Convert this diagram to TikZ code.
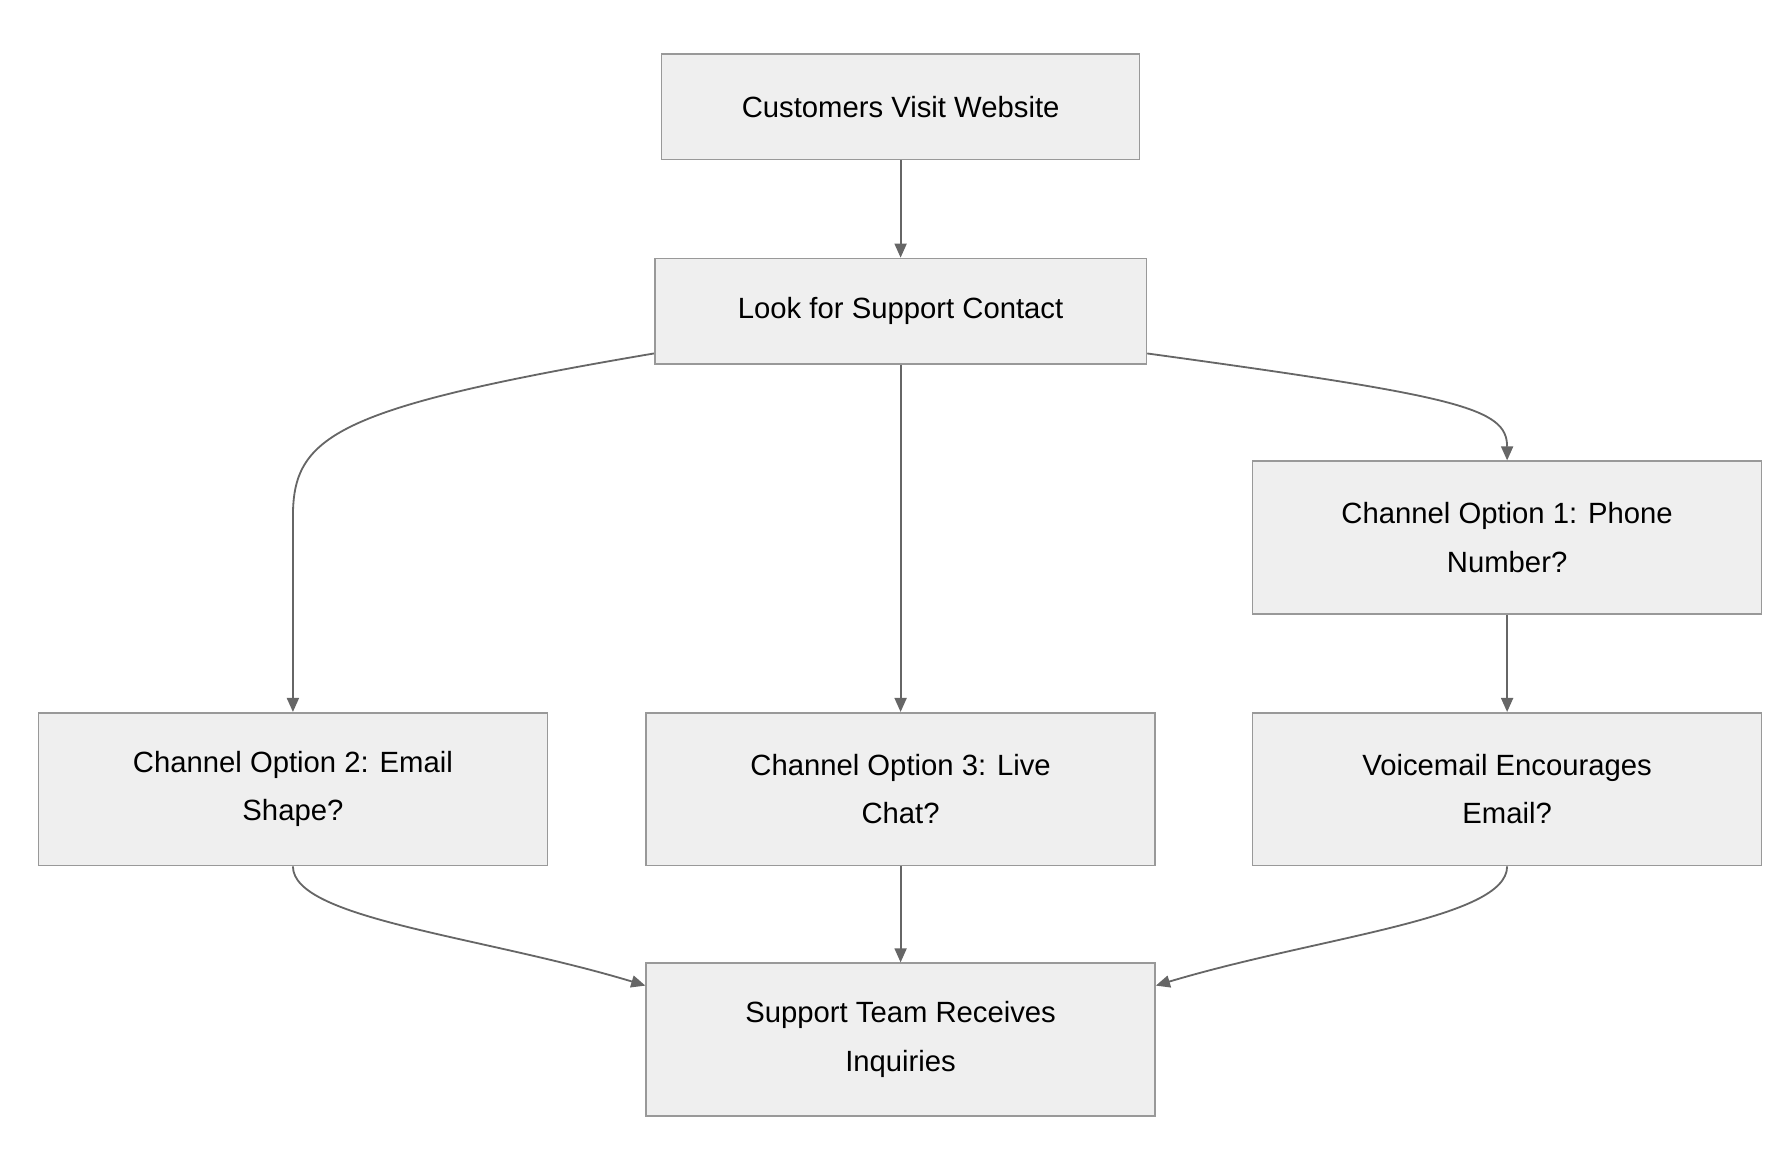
\documentclass[tikz,border=0pt]{standalone}
\usepackage{fontspec}
\setmainfont{Liberation Sans}
\usetikzlibrary{arrows.meta}
\definecolor{bx}{HTML}{EFEFEF}
\definecolor{bd}{HTML}{999999}
\definecolor{ln}{HTML}{666666}
\begin{document}
\begin{tikzpicture}[x=0.02cm,y=-0.02cm,
 box/.style={draw=bd,fill=bx,line width=0.8pt,inner sep=0pt,align=center,font=\fontsize{14.5}{24}\selectfont},
 ar/.style={draw=ln,line width=0.9pt,-{Triangle[length=7pt,width=6pt]}}]
\useasboundingbox (0,0) rectangle (1560,1013);
\node[box,minimum width=416*0.02cm,minimum height=92*0.02cm] (a) at (784,93) {Customers Visit Website};
\node[box,minimum width=428*0.02cm,minimum height=92*0.02cm] (b) at (784,271) {Look for Support Contact};
\node[box,minimum width=443*0.02cm,minimum height=133*0.02cm] (p) at (1312,468) {Channel Option 1: Phone\\Number?};
\node[box,minimum width=443*0.02cm,minimum height=133*0.02cm] (e) at (255,687) {Channel Option 2: Email\\Shape?};
\node[box,minimum width=443*0.02cm,minimum height=133*0.02cm] (l) at (784,687) {Channel Option 3: Live\\Chat?};
\node[box,minimum width=443*0.02cm,minimum height=133*0.02cm] (v) at (1312,687) {Voicemail Encourages\\Email?};
\node[box,minimum width=443*0.02cm,minimum height=133*0.02cm] (s) at (784,905) {Support Team Receives\\Inquiries};
\draw[ar] (a) -- (b);
\draw[ar] (b) -- (l);
\draw[ar] (p) -- (v);
\draw[ar] (l) -- (s);
\draw[ar] (b.south west) ++(0,-10) .. controls (290,355) and (255,380) .. (255,450) -- (e.north);
\draw[ar] (b.south east) ++(0,-10) .. controls (1270,345) and (1312,355) .. (p.north);
\draw[ar] (e.south) .. controls (255,800) and (420,815) .. (s.west|-0,858);
\draw[ar] (v.south) .. controls (1312,800) and (1150,815) .. (s.east|-0,858);
\end{tikzpicture}
\end{document}
